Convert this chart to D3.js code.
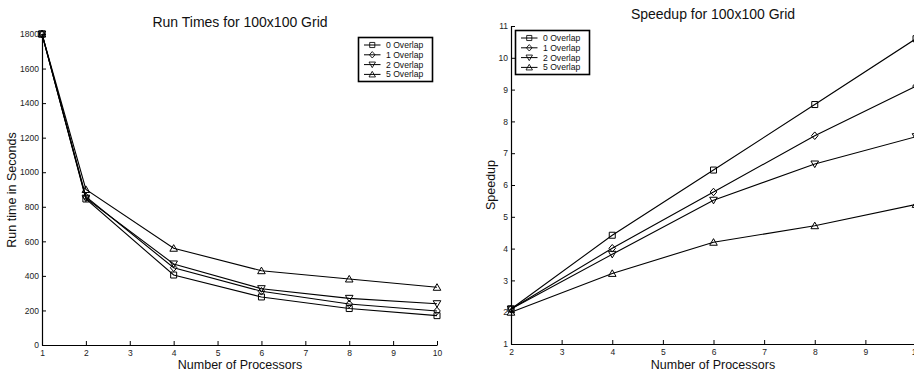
<!DOCTYPE html>
<html>
<head>
<meta charset="utf-8">
<script src="https://cdn.jsdelivr.net/npm/d3@7"></script>
<style>
  html, body { margin: 0; padding: 0; background: #fff; }
  svg { display: block; font-family: "Liberation Sans", Arial, Helvetica, sans-serif; }
</style>
</head>
<body>
<svg id="chart" width="914" height="375"></svg>
<script>
// ---- Data ----
const seriesNames = ["0 Overlap", "1 Overlap", "2 Overlap", "5 Overlap"];
const markerTypes = ["square", "diamond", "triangleDown", "triangleUp"];

const procs = [1, 2, 4, 6, 8, 10];
const runtime0 = [1800, 845, 405, 278, 211, 170];
const runtime1 = [1800, 858, 447, 311, 237, 197];
const runtime2 = [1800, 850, 469, 326, 270, 239];
const runtime5 = [1800, 900, 560, 430, 382, 334];

const speedupProcs = [2, 4, 6, 8, 10];
const speedup0 = [2.10, 4.42, 6.47, 8.53, 10.60];
const speedup1 = [2.10, 4.01, 5.78, 7.55, 9.11];
const speedup2 = [2.10, 3.82, 5.52, 6.66, 7.52];
const speedup5 = [2.00, 3.22, 4.20, 4.72, 5.39];

const runXTicks = [1, 2, 3, 4, 5, 6, 7, 8, 9, 10];
const runYTicks = [0, 200, 400, 600, 800, 1000, 1200, 1400, 1600, 1800];
const spXTicks = [2, 3, 4, 5, 6, 7, 8, 9, 10];
const spYTicks = [1, 2, 3, 4, 5, 6, 7, 8, 9, 10, 11];

const svg = d3.select("#chart");

function markerPath(type) {
  switch (type) {
    case "square": return "M-3,-3H3V3H-3Z";
    case "diamond": return "M0,-3.8L3.3,0L0,3.8L-3.3,0Z";
    case "triangleDown": return "M-3.8,-3L3.8,-3L0,3.6Z";
    case "triangleUp": return "M-3.8,3L3.8,3L0,-3.6Z";
  }
}

function drawPanel(cfg) {
  const g = svg.append("g");
  const x = d3.scaleLinear().domain(cfg.xDomain).range(cfg.xRange);
  const y = d3.scaleLinear().domain(cfg.yDomain).range(cfg.yRange);

  // axes
  const xAxis = d3.axisBottom(x).tickValues(cfg.xTicks).tickSizeInner(-4).tickSizeOuter(0).tickPadding(5).tickFormat(d3.format("d"));
  const yAxis = d3.axisLeft(y).tickValues(cfg.yTicks).tickSizeInner(-4).tickSizeOuter(0).tickPadding(3).tickFormat(d3.format("d"));

  const gx = g.append("g").attr("transform", `translate(0,${cfg.yRange[0]})`).call(xAxis);
  const gy = g.append("g").attr("transform", `translate(${cfg.xRange[0]},0)`).call(yAxis);
  [gx, gy].forEach(a => {
    a.selectAll("text").attr("font-size", 8.5).attr("fill", "#222").attr("font-family", "Liberation Sans, Arial, sans-serif");
    a.select(".domain").attr("stroke", "#000").attr("stroke-width", 1.2);
    a.selectAll(".tick line").attr("stroke", "#000");
  });

  // lines and markers
  const line = d3.line().x((d, i) => x(cfg.xs[i])).y(d => y(d));
  cfg.series.forEach((vals, si) => {
    g.append("path").datum(vals)
      .attr("d", line)
      .attr("fill", "none").attr("stroke", "#000").attr("stroke-width", 1.1);
    g.selectAll(null).data(vals).enter().append("path")
      .attr("d", markerPath(markerTypes[si]))
      .attr("transform", (d, i) => `translate(${x(cfg.xs[i])},${y(d)})`)
      .attr("fill", "none").attr("stroke", "#000").attr("stroke-width", 1);
  });

  // title
  g.append("text").attr("x", cfg.titleX).attr("y", cfg.titleY)
    .attr("text-anchor", "middle").attr("font-size", 14).attr("fill", "#111").text(cfg.title);
  // x label
  g.append("text").attr("x", cfg.titleX).attr("y", 369)
    .attr("text-anchor", "middle").attr("font-size", 12.5).attr("fill", "#111").text("Number of Processors");
  // y label
  g.append("text").attr("transform", `translate(${cfg.yLabelX},${cfg.yLabelY}) rotate(-90)`)
    .attr("text-anchor", "middle").attr("dy", "0.35em").attr("font-size", 12.5).attr("fill", "#111").text(cfg.yLabel);

  // legend
  const lg = g.append("g").attr("transform", `translate(${cfg.legendX},${cfg.legendY})`);
  lg.append("rect").attr("x", 0).attr("y", 0).attr("width", 74).attr("height", 44)
    .attr("fill", "#fff").attr("stroke", "#000").attr("stroke-width", 1.6);
  seriesNames.forEach((name, i) => {
    const ry = 7.5 + i * 9.8;
    lg.append("line").attr("x1", 5.5).attr("x2", 22).attr("y1", ry).attr("y2", ry)
      .attr("stroke", "#000").attr("stroke-width", 1);
    lg.append("path").attr("d", markerPath(markerTypes[i]))
      .attr("transform", `translate(13.75,${ry}) scale(0.85)`)
      .attr("fill", "none").attr("stroke", "#000").attr("stroke-width", 1);
    lg.append("text").attr("x", 27.5).attr("y", ry).attr("dy", "0.35em")
      .attr("font-size", 8.6).attr("fill", "#111").text(name);
  });
}

drawPanel({
  xDomain: [1, 10], xRange: [42, 437],
  yDomain: [0, 1800], yRange: [345, 34],
  xTicks: runXTicks, yTicks: runYTicks,
  xs: procs,
  series: [runtime0, runtime1, runtime2, runtime5],
  title: "Run Times for 100x100 Grid", titleX: 240, titleY: 26.5,
  yLabel: "Run time in Seconds", yLabelX: 12, yLabelY: 190,
  legendX: 358.5, legendY: 37.5
});

drawPanel({
  xDomain: [2, 10], xRange: [511, 916],
  yDomain: [1, 11], yRange: [344, 26],
  xTicks: spXTicks, yTicks: spYTicks,
  xs: speedupProcs,
  series: [speedup0, speedup1, speedup2, speedup5],
  title: "Speedup for 100x100 Grid", titleX: 713, titleY: 18.5,
  yLabel: "Speedup", yLabelX: 490.5, yLabelY: 185,
  legendX: 515.5, legendY: 30.5
});
</script>
</body>
</html>
